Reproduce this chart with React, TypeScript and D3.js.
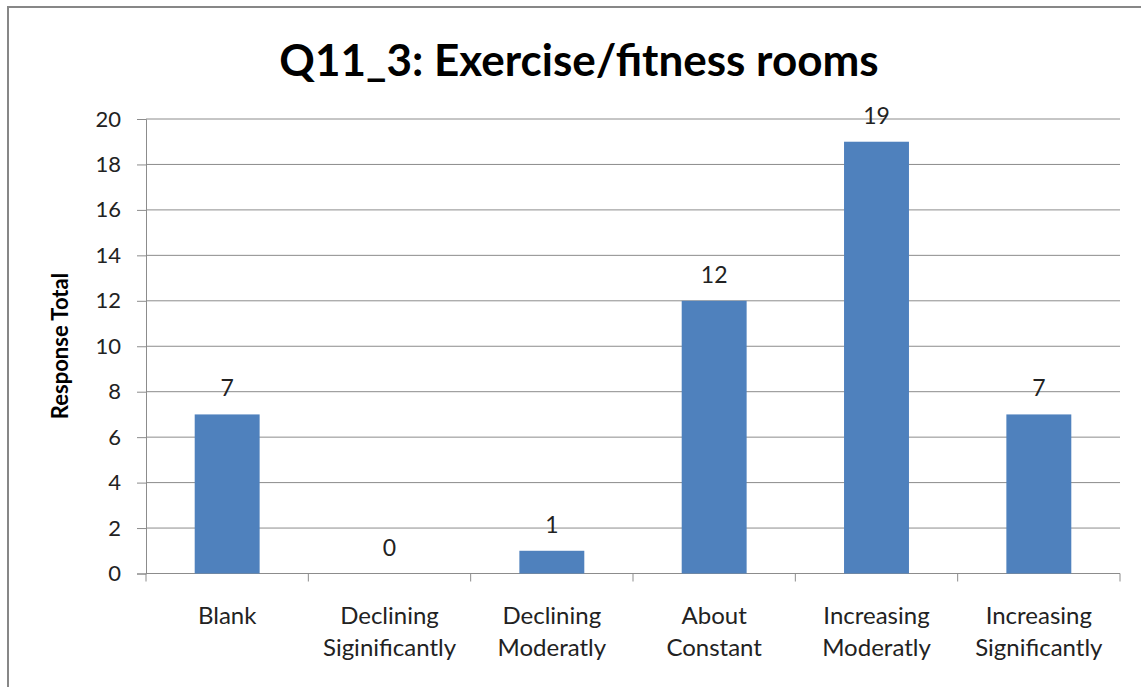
import React, { useRef, useEffect } from 'react';
import * as d3 from 'd3';

const categories: string[][] = [
  ['Blank'],
  ['Declining', 'Siginificantly'],
  ['Declining', 'Moderatly'],
  ['About', 'Constant'],
  ['Increasing', 'Moderatly'],
  ['Increasing', 'Significantly'],
];
const responseTotals: number[] = [7, 0, 1, 12, 19, 7];
const yTicks: number[] = [0, 2, 4, 6, 8, 10, 12, 14, 16, 18, 20];

const W = 1141;
const H = 687;
const FONT = 'Lato, "Open Sans", sans-serif';

const ColumnChart = () => {
  const ref = useRef<SVGSVGElement>(null);

  useEffect(() => {
    if (!ref.current) return;
    const svg = d3.select(ref.current);
    svg.selectAll('*').remove();

    const left = 146, right = 1120, top = 119, bottom = 573.5;
    const keys = categories.map((c, i) => String(i));

    const x = d3.scaleBand().domain(keys).range([left, right]).paddingInner(0.6).paddingOuter(0.3);
    const y = d3.scaleLinear().domain([0, 20]).range([bottom, top]);

    // chart border
    svg.append('rect')
      .attr('x', 8).attr('y', 7).attr('width', W).attr('height', H)
      .attr('fill', 'white').attr('stroke', '#878787').attr('stroke-width', 2);

    svg.append('text')
      .attr('x', 579).attr('y', 76)
      .attr('text-anchor', 'middle')
      .attr('font-family', FONT).attr('font-weight', 'bold').attr('font-size', 44)
      .attr('fill', '#000')
      .text('Q11_3: Exercise/fitness rooms');

    // y axis
    const yAxis = svg.append('g').attr('transform', `translate(${left},0)`)
      .call(d3.axisLeft(y).tickValues(yTicks).tickSize(9).tickPadding(16));
    yAxis.select('.domain').attr('stroke', '#8c8c8c');
    yAxis.selectAll('.tick line').attr('stroke', '#8c8c8c');
    yAxis.selectAll('.tick text')
      .attr('font-family', FONT).attr('font-size', 22).attr('fill', '#222');

    // gridlines
    svg.append('g').selectAll('line').data(yTicks.filter(t => t > 0)).enter()
      .append('line')
      .attr('x1', left).attr('x2', right)
      .attr('y1', d => y(d)).attr('y2', d => y(d))
      .attr('stroke', '#8c8c8c').attr('stroke-width', 1);

    // x axis baseline and category boundary ticks
    svg.append('line')
      .attr('x1', left).attr('x2', right).attr('y1', bottom).attr('y2', bottom)
      .attr('stroke', '#8c8c8c');
    const bounds = d3.range(categories.length + 1).map(i => left + i * x.step());
    svg.append('g').selectAll('line').data(bounds).enter()
      .append('line')
      .attr('x1', d => d).attr('x2', d => d)
      .attr('y1', bottom).attr('y2', bottom + 8)
      .attr('stroke', '#8c8c8c');

    // bars
    svg.append('g').selectAll('rect').data(responseTotals).enter()
      .append('rect')
      .attr('x', (d, i) => x(String(i))!)
      .attr('width', x.bandwidth())
      .attr('y', d => y(d))
      .attr('height', d => bottom - y(d))
      .attr('fill', '#4f81bd');

    // data labels
    svg.append('g').selectAll('text').data(responseTotals).enter()
      .append('text')
      .attr('x', (d, i) => x(String(i))! + x.bandwidth() / 2)
      .attr('y', d => y(d) - 18)
      .attr('text-anchor', 'middle')
      .attr('font-family', FONT).attr('font-size', 23).attr('fill', '#222')
      .text(d => d);

    // category labels
    const lbl = svg.append('g').selectAll('text').data(categories).enter()
      .append('text')
      .attr('x', (d, i) => x(String(i))! + x.bandwidth() / 2)
      .attr('y', 624)
      .attr('text-anchor', 'middle')
      .attr('font-family', FONT).attr('font-size', 24).attr('fill', '#222');
    lbl.selectAll('tspan').data(d => d).enter()
      .append('tspan')
      .attr('x', function () { return (this.parentNode as SVGTextElement).getAttribute('x'); })
      .attr('dy', (d, i) => (i === 0 ? 0 : 32))
      .text(d => d);

    svg.append('text')
      .attr('transform', `translate(68,346) rotate(-90)`)
      .attr('text-anchor', 'middle')
      .attr('font-family', FONT).attr('font-weight', 'bold').attr('font-size', 22)
      .attr('fill', '#000')
      .text('Response Total');
  }, []);

  return <svg ref={ref} width={W} height={H} style={{ display: 'block' }} />;
};

export default function App() {
  return (
    <div style={{ position: 'absolute', left: 0, top: 0 }}>
      <ColumnChart />
    </div>
  );
}
